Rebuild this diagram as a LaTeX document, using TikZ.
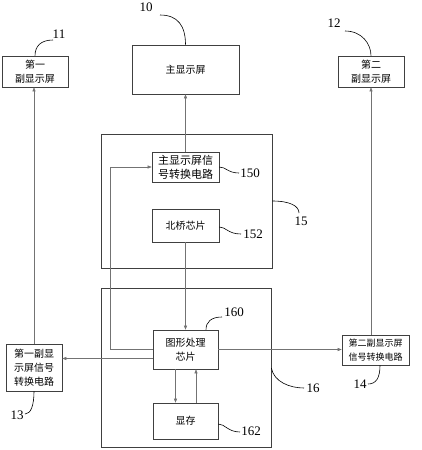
\documentclass[tikz,border=0pt]{standalone}
\usepackage{fontspec}
\setmainfont{Liberation Serif}
\newfontfamily\cjk{Noto Sans CJK SC}
\usetikzlibrary{positioning, arrows.meta}

\begin{document}
\begin{tikzpicture}[
    x=1pt, y=-1pt,
    block/.style={rectangle, draw=black!75, line width=0.6pt, inner sep=1pt, align=center,
                  font=\cjk\fontsize{10}{14}\selectfont},
    group/.style={rectangle, draw=black!75, line width=0.6pt},
    link/.style={draw=black!55, line width=0.5pt, -{Triangle[length=4pt,width=3pt]}},
    tag/.style={inner sep=1pt, font=\fontsize{13}{13}\selectfont},
    lead/.style={draw=black, line width=0.6pt}
]
    \useasboundingbox (0,0) rectangle (421,450);

    % Screens
    \node[block, minimum width=66pt, minimum height=31pt]  (Sub1) at (35,71.5)   {第一\\副显示屏};
    \node[block, minimum width=107pt, minimum height=49pt] (Main) at (185.5,69.5) {主显示屏};
    \node[block, minimum width=66pt, minimum height=31pt]  (Sub2) at (371,71.5)  {第二\\副显示屏};

    % Group 15
    \node[group, minimum width=171pt, minimum height=134pt] (G15) at (186.5,201) {};
    \node[block, minimum width=67pt, minimum height=30pt, font=\cjk\fontsize{11}{14}\selectfont]
        (Conv) at (185.5,167) {主显示屏信\\号转换电路};
    \node[block, minimum width=67pt, minimum height=33pt] (North) at (185.5,225.5) {北桥芯片};

    % Group 16
    \node[group, minimum width=170pt, minimum height=159pt] (G16) at (186,367.5) {};
    \node[block, minimum width=65pt, minimum height=39pt] (Gpu)  at (185.5,349.5) {图形处理\\芯片};
    \node[block, minimum width=65pt, minimum height=36pt] (Vram) at (185.5,421)   {显存};

    % Side converters
    \node[block, minimum width=56pt, minimum height=47pt] (ConvA) at (34,367.5) {第一副显\\示屏信号\\转换电路};
    \node[block, minimum width=67pt, minimum height=30pt, font=\cjk\fontsize{9}{14}\selectfont]
        (ConvB) at (375.5,350) {第二副显示屏\\信号转换电路};

    % Reference numbers
    \node[tag] (n10)  at (146,7)   {10};
    \node[tag] (n11)  at (59,34)   {11};
    \node[tag] (n12)  at (334,23)  {12};
    \node[tag] (n15)  at (301,221) {15};
    \node[tag] (n150) at (250,173) {150};
    \node[tag] (n152) at (253,234) {152};
    \node[tag] (n16)  at (313,388) {16};
    \node[tag] (n160) at (234,312) {160};
    \node[tag] (n162) at (251,431) {162};
    \node[tag] (n13)  at (17,415)  {13};
    \node[tag] (n14)  at (360,384) {14};

    % Signal paths
    \draw[link] (Conv.north) -- (Main.south);
    \draw[link] (North.south) -- (Gpu.north);
    \draw[link] (Gpu.west) -- ++(-42,0) |- (Conv.west);
    \draw[link] ([yshift=-9pt]Gpu.west) -- ([yshift=-9pt]Gpu.west -| ConvA.east);
    \draw[link] (Gpu.east) -- (Gpu.east -| ConvB.west);
    \draw[link] (ConvA.north) -- (ConvA.north |- Sub1.south);
    \draw[link] (Sub2.south |- ConvB.north) -- (Sub2.south);
    \draw[link] ([xshift=-10pt]Gpu.south) -- ([xshift=-10pt]Vram.north);
    \draw[link] ([xshift=10.5pt]Vram.north) -- ([xshift=10.5pt]Gpu.south);

    % Leaders
    \draw[lead] (Main.north) .. controls (185.5,26) and (178,15) .. (160,15);
    \draw[lead] (Sub1.north) .. controls (35,46) and (41,40) .. (53,40);
    \draw[lead] (Sub2.north) .. controls (371,44) and (362,31) .. (345,31);
    \draw[lead] (G15.east |- 0,201) .. controls (290,201) and (299,206) .. (299,213);
    \draw[lead] (Conv.east) .. controls (226,167) and (228,173) .. (239,173);
    \draw[lead] (North.east |- 0,227) .. controls (226,227) and (228,234) .. (241,234);
    \draw[lead] (G16.east |- 0,368) .. controls (274,382) and (290,388) .. (304,388);
    \draw[lead] (Gpu.north -| 206,0) .. controls (206,322) and (211,317) .. (222,317);
    \draw[lead] (Vram.east |- 0,424) .. controls (225,424) and (228,432) .. (240,432);
    \draw[lead] (ConvA.south) .. controls (34,405) and (31,414) .. (25,414);
    \draw[lead] (ConvB.south -| 380,0) .. controls (380,378) and (376,384) .. (368,384);

\end{tikzpicture}
\end{document}
